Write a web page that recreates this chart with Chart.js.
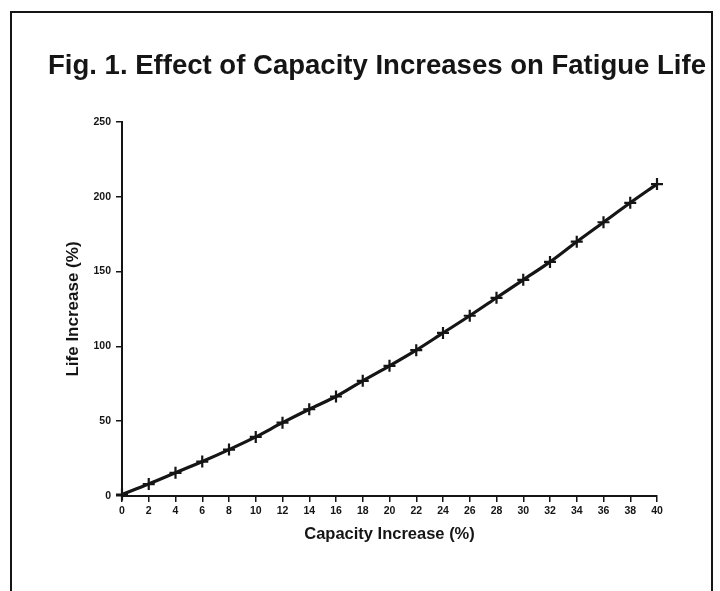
<!DOCTYPE html>
<html>
<head>
<meta charset="utf-8">
<script src="https://cdn.jsdelivr.net/npm/chart.js@4.4.1/dist/chart.umd.min.js"></script>
<style>
  html, body { margin: 0; padding: 0; background: #fff; overflow: hidden; }
  #frame {
    position: absolute; left: 10px; top: 11px; width: 699px; height: 620px;
    border: 2px solid #151515; border-bottom: none;
  }
  #wrap { position: absolute; left: 0; top: 0; width: 720px; height: 591px; }
</style>
</head>
<body>
<div id="frame"></div>
<div id="wrap"><canvas id="chart" width="720" height="591"></canvas></div>
<script>
// capacity increase (%) on x, life increase (%)
const capacity = [0, 2, 4, 6, 8, 10, 12, 14, 16, 18, 20, 22, 24, 26, 28, 30, 32, 34, 36, 38, 40];
const lifeIncrease = [1, 8, 15.5, 23, 31, 39.5, 49, 58, 66.5, 77, 87, 97.5, 109, 120.5, 132.5, 144.5, 156.5, 170, 183, 196, 208.5];
const yTicks = [0, 50, 100, 150, 200, 250];
const chartTitle = 'Fig. 1. Effect of Capacity Increases on Fatigue Life';

const ink = '#151515';
const font = 'Liberation Sans, Arial, Helvetica, sans-serif';

// the figure title sits a bit right of the plot centre and is set condensed,
// so draw it by hand with a max width
const figTitle = {
    id: 'figTitle',
    afterDraw(chart) {
        const c = chart.ctx;
        c.save();
        c.fillStyle = ink;
        c.font = 'bold 28px ' + font;
        c.textAlign = 'center';
        c.textBaseline = 'middle';
        c.fillText(chartTitle, 377, 66, 658);
        c.restore();
    }
};

const ctx = document.getElementById('chart');
new Chart(ctx, {
    type: 'line',
    data: {
        datasets: [{
            label: 'Life Increase',
            data: capacity.map((c, i) => ({ x: c, y: lifeIncrease[i] })),
            borderColor: ink,
            backgroundColor: ink,
            borderWidth: 3.2,
            cubicInterpolationMode: 'monotone',
            pointStyle: 'cross',
            pointRadius: 6,
            pointBorderWidth: 2.2,
            pointBorderColor: ink,
            clip: false
        }]
    },
    options: {
        responsive: false,
        animation: false,
        layout: {
            padding: { left: 58.8, right: 63, top: 122, bottom: 42.2 }
        },
        plugins: {
            legend: { display: false },
            tooltip: { enabled: false },
            title: { display: false }
        },
        scales: {
            x: {
                type: 'linear',
                min: 0,
                max: 40,
                afterFit: s => { s.height = 52.8; },
                ticks: {
                    stepSize: 2,
                    color: ink,
                    padding: 3,
                    font: { family: font, size: 10.5, weight: 'bold' }
                },
                grid: {
                    drawOnChartArea: false,
                    drawTicks: true,
                    tickLength: 6,
                    color: ink,
                    lineWidth: 1.5
                },
                border: { color: ink, width: 2 },
                title: {
                    display: true,
                    text: 'Capacity Increase (%)',
                    color: ink,
                    font: { family: font, size: 16.5, weight: 'bold' }
                }
            },
            y: {
                min: 0,
                max: 250,
                afterFit: s => { s.width = 122 - 58.8; },
                afterBuildTicks: s => { s.ticks = yTicks.map(v => ({ value: v })); },
                ticks: {
                    color: ink,
                    padding: 5,
                    font: { family: font, size: 10.5, weight: 'bold' }
                },
                grid: {
                    drawOnChartArea: false,
                    drawTicks: true,
                    tickLength: 6,
                    color: ink,
                    lineWidth: 1.5
                },
                border: { color: ink, width: 2 },
                title: {
                    display: true,
                    text: 'Life Increase (%)',
                    color: ink,
                    font: { family: font, size: 17, weight: 'bold' }
                }
            }
        }
    },
    plugins: [figTitle]
});
</script>
</body>
</html>
